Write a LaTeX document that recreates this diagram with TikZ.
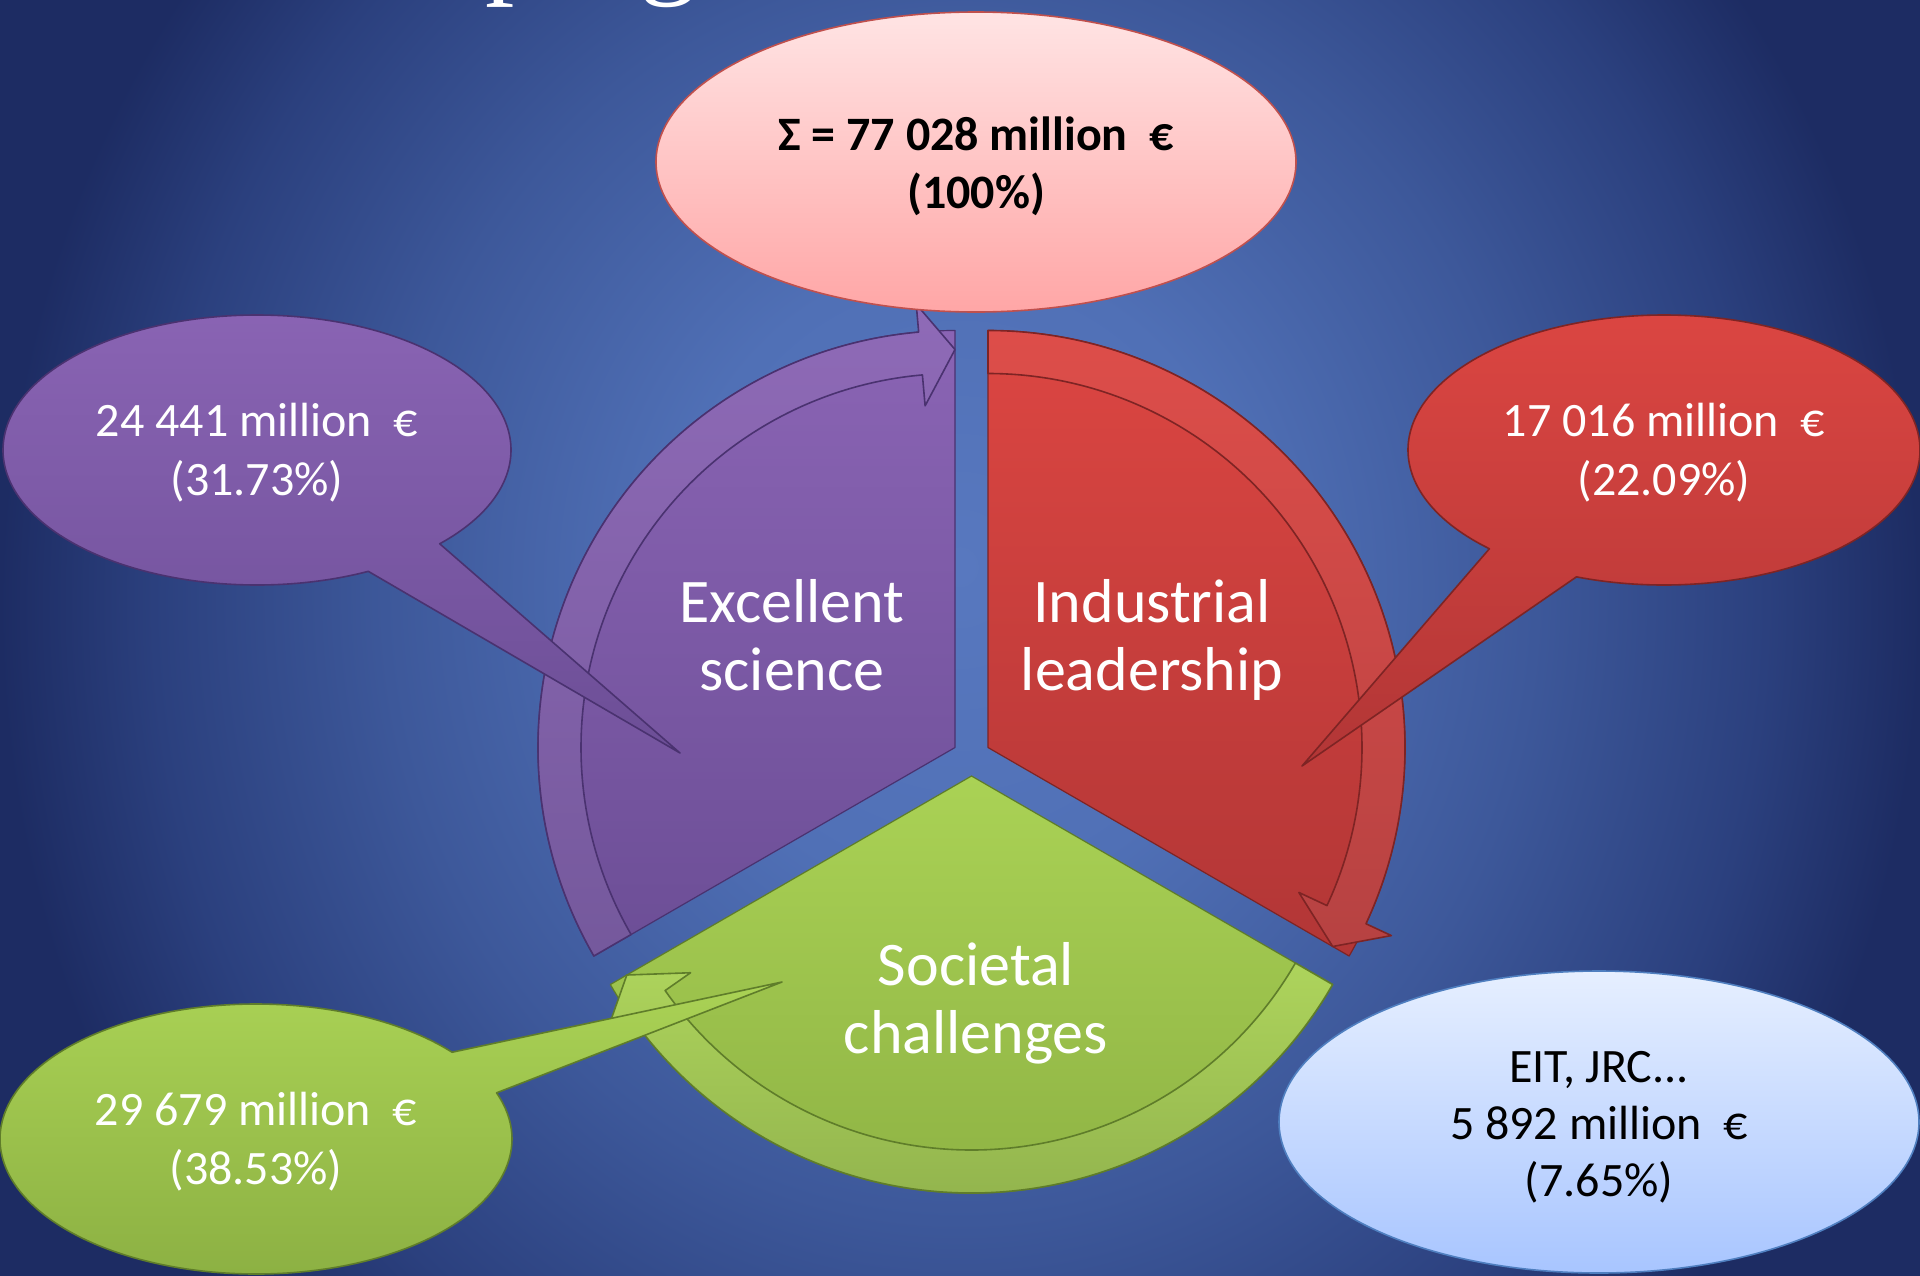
\documentclass[tikz,border=0pt]{standalone}
\usepackage{fontspec}
\setmainfont{Carlito}
\newfontfamily\titleserif{Liberation Serif}
\usetikzlibrary{calc}

\definecolor{bgA}{HTML}{5878BF}
\definecolor{bgB}{HTML}{5070B6}
\definecolor{bgC}{HTML}{3D589A}
\definecolor{bgD}{HTML}{2B407E}
\definecolor{bgE}{HTML}{1D2C63}
\pgfdeclareradialshading{bgshade}{\pgfpoint{0bp}{2bp}}{color(0bp)=(bgA); color(7.5bp)=(bgB); color(15bp)=(bgC); color(21bp)=(bgD); color(25bp)=(bgE); color(50bp)=(bgE)}

\definecolor{purT}{HTML}{8A64B4}
\definecolor{purB}{HTML}{6C4E96}
\definecolor{purL}{HTML}{4A3270}
\definecolor{redT}{HTML}{DC4642}
\definecolor{redB}{HTML}{B23636}
\definecolor{redL}{HTML}{7E2424}
\definecolor{grnT}{HTML}{AAD255}
\definecolor{grnB}{HTML}{8BAF42}
\definecolor{grnL}{HTML}{5F7D2A}
\definecolor{pinkT}{HTML}{FFE4E4}
\definecolor{pinkB}{HTML}{FFA6A6}
\definecolor{pinkL}{HTML}{C0504D}
\definecolor{bluT}{HTML}{E6EFFF}
\definecolor{bluB}{HTML}{A8C5FF}
\definecolor{bluL}{HTML}{4F7FC0}

\tikzset{
  wedgefill/.style={top color=#1T, bottom color=#1B, draw=#1L, line width=1.2pt, line join=round},
  rimband/.style={top color=#1T!96!white, bottom color=#1B!94!white, draw=#1L, line width=1.6pt, line join=round},
  bubblefill/.style={top color=#1T, bottom color=#1B, draw=#1L, line width=1.6pt, line join=round},
  seclabel/.style={text=white, align=center, font=\fontsize{62}{68}\selectfont, inner sep=0pt, anchor=base},
  sumtext/.style={text=white, align=center, font=\fontsize{48}{59}\selectfont, inner sep=0pt, anchor=base},
  titlefrag/.style={text=white, font=\titleserif\fontsize{117}{120}\selectfont, inner sep=0pt, anchor=base west},
}

% sector: centre, start angle, end angle, colour
\newcommand\piesector[4]{%
  \path[wedgefill=#4] (#1) -- ($(#1)+(#2:417)$) arc[start angle=#2, end angle=#3, radius=417] -- cycle;}
% rim arrow: centre, start angle, end angle, colour
\newcommand\rimarrow[4]{%
  \pgfmathsetmacro\rimB{#3-5}%
  \path[rimband=#4] ($(#1)+(#2:374)$) arc[start angle=#2, end angle=\rimB, radius=374]
     -- ($(#1)+(\rimB:343)$) -- ($(#1)+(#3:398)$) -- ($(#1)+(\rimB:445)$)
     -- ($(#1)+(\rimB:417)$) arc[start angle=\rimB, end angle=#2, radius=417] -- cycle;}

\begin{document}
\begin{tikzpicture}[x=1pt,y=-1pt]
\useasboundingbox (0,0) rectangle (1920,1275);
\begin{scope}
  \clip (0,0) rectangle (1920,1275);
  \shade[shading=bgshade] (0,-400) rectangle (1920,1700);
  \node[titlefrag] (tp) at (485,-18) {p};
  \node[titlefrag] (tg) at (639,-18) {g};
\end{scope}

% centres of the exploded sectors
\coordinate (cp) at (955,747.5);
\coordinate (cr) at (988,747.5);
\coordinate (cg) at (971.5,776);

\piesector{cp}{150}{270}{pur}
\piesector{cr}{270}{390}{red}
\piesector{cg}{30}{150}{grn}

\rimarrow{cp}{150}{270}{pur}
\rimarrow{cr}{270}{390}{red}
\rimarrow{cg}{30}{150}{grn}

\node[seclabel] (es) at (792,690) {Excellent\\science};
\node[seclabel] (il) at (1152,690) {Industrial\\leadership};
\node[seclabel] (sc) at (976,1053) {Societal\\challenges};

% callouts
\coordinate (pc) at (257,450);
\coordinate (ptip) at (680,753);
\path[bubblefill=pur] ($(pc)+(64:254 and 135)$) -- (ptip) -- ($(pc)+(44:254 and 135)$)
   arc[start angle=44, end angle=-296, x radius=254, y radius=135] -- cycle;
\node[sumtext] (pval) at (257,495) {24 441 million~ €\\(31.73\%)};

\coordinate (rc) at (1664,450);
\coordinate (rtip) at (1302,766);
\path[bubblefill=red] ($(rc)+(110:256 and 135)$) -- (rtip) -- ($(rc)+(133:256 and 135)$)
   arc[start angle=133, end angle=470, x radius=256, y radius=135] -- cycle;
\node[sumtext] (rval) at (1664,495) {17 016 million~ €\\(22.09\%)};

\coordinate (gc) at (256,1139);
\coordinate (gtip) at (782,982);
\path[bubblefill=grn] ($(gc)+(-20:256 and 135)$) -- (gtip) -- ($(gc)+(-40:256 and 135)$)
   arc[start angle=-40, end angle=-380, x radius=256, y radius=135] -- cycle;
\node[sumtext] (gval) at (256,1184) {29 679 million~ €\\(38.53\%)};

% total
\path[bubblefill=pink] (976,162) ellipse[x radius=320, y radius=150];
\node[sumtext, text=black, font=\bfseries\fontsize{48}{58}\selectfont] (total) at (976,208) {Σ = 77 028 million~ €\\(100\%)};

% other
\path[bubblefill=blu] (1599,1122) ellipse[x radius=320, y radius=151];
\node[sumtext, text=black, font=\fontsize{48}{57}\selectfont] (other) at (1599,1196) {EIT, JRC...\\5 892 million~ €\\(7.65\%)};
\end{tikzpicture}
\end{document}
